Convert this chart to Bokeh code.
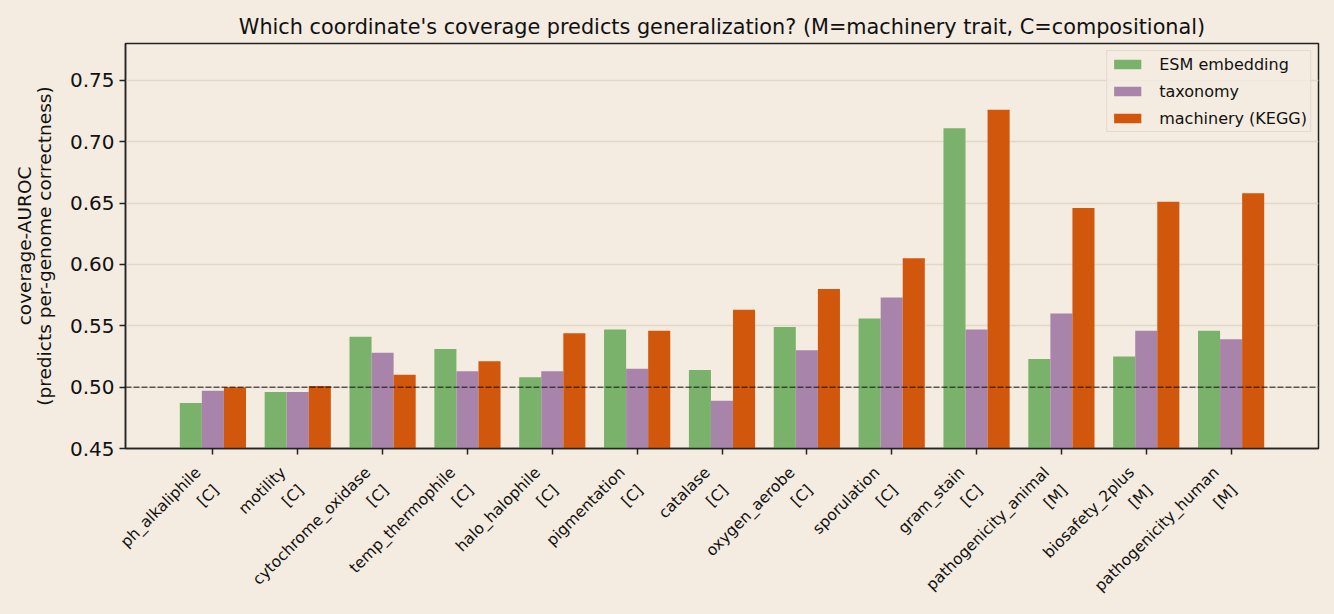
import math
from bokeh.plotting import figure
from bokeh.layouts import column
from bokeh.models import ColumnDataSource, FixedTicker, Span, Range1d, PrintfTickFormatter
from bokeh.core.properties import value
from bokeh.transform import dodge
from bokeh.embed import file_html
from bokeh.resources import INLINE

traits = ["ph_alkaliphile", "motility", "cytochrome_oxidase", "temp_thermophile",
          "halo_halophile", "pigmentation", "catalase", "oxygen_aerobe", "sporulation",
          "gram_stain", "pathogenicity_animal", "biosafety_2plus", "pathogenicity_human"]
kinds = ["C", "C", "C", "C", "C", "C", "C", "C", "C", "C", "M", "M", "M"]
esm = [0.487, 0.496, 0.541, 0.531, 0.508, 0.547, 0.514, 0.549, 0.556, 0.711, 0.523, 0.525, 0.546]
tax = [0.497, 0.496, 0.528, 0.513, 0.513, 0.515, 0.489, 0.530, 0.573, 0.547, 0.560, 0.546, 0.539]
kegg = [0.500, 0.501, 0.510, 0.521, 0.544, 0.546, 0.563, 0.580, 0.605, 0.726, 0.646, 0.651, 0.658]
series_names = ["ESM embedding", "taxonomy", "machinery (KEGG)"]
colors = ["#7BB26B", "#A884AB", "#D0570C"]
y_ticks = [0.45, 0.50, 0.55, 0.60, 0.65, 0.70, 0.75]

BG = "#F4ECE0"
FONT = "DejaVu Sans"
INK = "#111111"

W, H_TOP, H_BOT = 1334, 462, 152
B_LEFT, B_RIGHT, B_TOP, B_BOTTOM = 125, 16, 43, 14
XR = (-1.03, 13.03)
YR = (0.45, 0.78)

idx = list(range(len(traits)))
src = ColumnDataSource(dict(idx=idx, esm=esm, tax=tax, kegg=kegg))

p = figure(width=W, height=H_TOP, output_backend="svg", toolbar_location=None,
           x_range=Range1d(*XR), y_range=Range1d(*YR),
           background_fill_color=BG, border_fill_color=BG,
           min_border_left=B_LEFT, min_border_right=B_RIGHT,
           min_border_top=B_TOP, min_border_bottom=B_BOTTOM)

w = 0.26
for col, off, name, c in zip(["esm", "tax", "kegg"], [-w, 0, w], series_names, colors):
    p.vbar(x=dodge("idx", off, range=p.x_range), top=col, bottom=YR[0], width=w,
           source=src, fill_color=c, line_color=None, legend_label=name)

p.add_layout(Span(location=0.5, dimension="width", line_color="black", line_alpha=0.6,
                  line_dash="6 2", line_width=1.5))

p.title.text = "Which coordinate's coverage predicts generalization? (M=machinery trait, C=compositional)"
p.title.align = "center"
p.title.text_font = FONT
p.title.text_font_size = "20.8px"
p.title.text_font_style = "normal"
p.title.text_color = INK

p.xgrid.visible = False
p.ygrid.ticker = FixedTicker(ticks=y_ticks)
p.ygrid.grid_line_color = "#E2D8CA"
p.ygrid.grid_line_width = 1.5

p.outline_line_color = "#222222"
p.outline_line_width = 1.5

p.yaxis.ticker = FixedTicker(ticks=y_ticks)
p.yaxis.formatter = PrintfTickFormatter(format="%.2f")
p.yaxis.axis_label = "coverage-AUROC\n(predicts per-genome correctness)"
p.yaxis.axis_label_text_font = FONT
p.yaxis.axis_label_text_font_size = "18.5px"
p.yaxis.axis_label_text_font_style = "normal"
p.yaxis.axis_label_text_color = INK
p.yaxis.axis_label_text_line_height = 0.95
p.yaxis.axis_label_standoff = 12

p.xaxis.ticker = FixedTicker(ticks=idx)
p.xaxis.major_label_overrides = {i: "" for i in idx}
p.xaxis.major_label_text_font_size = "1px"
p.xaxis.major_label_standoff = 0

for ax in (p.xaxis[0], p.yaxis[0]):
    ax.axis_line_color = "#222222"
    ax.axis_line_width = 1.5
    ax.major_tick_line_color = "#222222"
    ax.major_tick_line_width = 1.5
    ax.major_tick_out = 6
    ax.major_tick_in = 0
    ax.minor_tick_line_color = None
    ax.major_label_text_font = FONT
    ax.major_label_text_color = INK
p.yaxis.major_label_standoff = 5
p.yaxis.major_label_text_font_size = "20px"

lg = p.legend[0]
lg.location = "top_right"
lg.margin = 7
lg.padding = 3
lg.spacing = 7
lg.glyph_width = 34
lg.glyph_height = 12
lg.label_height = 20
lg.label_standoff = 15
lg.label_text_font = FONT
lg.label_text_font_size = "16px"
lg.label_text_color = INK
lg.background_fill_color = BG
lg.background_fill_alpha = 0.8
lg.border_line_color = "#CFC7BC"
lg.border_line_width = 1.5

# ---- strip below the plot holding the rotated category labels (matplotlib rotation=45, ha="right")
u = (XR[1] - XR[0]) / (W - B_LEFT - B_RIGHT)          # data units per pixel of the main frame
p2 = figure(width=W, height=H_BOT, output_backend="svg", toolbar_location=None,
            x_range=Range1d(XR[0] - B_LEFT * u, XR[1] + B_RIGHT * u), y_range=Range1d(-H_BOT, 0),
            x_axis_type=None, y_axis_type=None,
            background_fill_color=BG, border_fill_color=BG, min_border=0)
p2.grid.visible = False
p2.outline_line_color = None
lab_src = ColumnDataSource(dict(idx=idx, y=[-1] * len(idx),
                                label=[f"{t}\n[{k}]" for t, k in zip(traits, kinds)]))
p2.text(x="idx", y="y", text="label", source=lab_src, x_offset=-21,
        angle=math.pi / 4, text_align="right", text_baseline="top",
        text_font=value(FONT), text_font_size="15.5px", text_line_height=1.4, text_color=INK)

layout = column(p, column(p2, spacing=0, styles={"background-color": BG}),
                spacing=0, styles={"background-color": BG})
open("out.html", "w").write(file_html(layout, INLINE))
